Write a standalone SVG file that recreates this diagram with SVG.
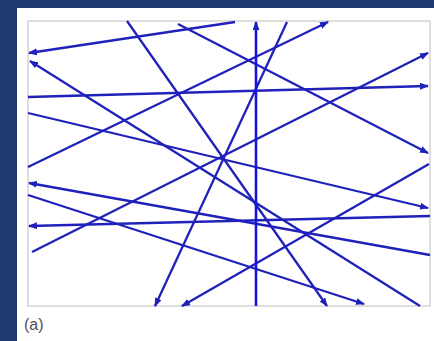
<svg xmlns="http://www.w3.org/2000/svg" width="434" height="341" viewBox="0 0 434 341">
<style>
.ln{stroke:#2020bb;stroke-width:2.3;fill:none;marker-end:url(#ah)}
.lbl{font-family:"Liberation Sans",Arial,sans-serif;font-size:16px;fill:#505050}
</style>
<defs>
<marker id="ah" markerUnits="userSpaceOnUse" markerWidth="9" markerHeight="7" refX="8" refY="3.5" orient="auto">
<path d="M0,0 L9,3.5 L0,7 z" fill="#2020bb"/>
</marker>
</defs>
<rect x="0" y="0" width="434" height="341" fill="#1e3a6e"/>
<rect x="17" y="8" width="417" height="333" fill="#ffffff"/>
<rect id="frame" x="28" y="21" width="402" height="285" fill="none" stroke="#c8c8c8" stroke-width="1.2"/>
<g id="connectors">
<line class="ln" x1="235" y1="22" x2="29" y2="53"/>
<line class="ln" x1="420" y1="306" x2="30" y2="61"/>
<line class="ln" x1="28" y1="97" x2="428" y2="86"/>
<line class="ln" x1="28" y1="113" x2="428" y2="208"/>
<line class="ln" x1="28" y1="167" x2="328" y2="22"/>
<line class="ln" x1="127" y1="21" x2="327" y2="306"/>
<line class="ln" x1="178" y1="24" x2="428" y2="153"/>
<line class="ln" x1="287" y1="22" x2="155" y2="306"/>
<line class="ln" x1="32" y1="252" x2="428" y2="53"/>
<line class="ln" x1="429" y1="164" x2="182" y2="306"/>
<line class="ln" x1="430" y1="216" x2="29" y2="226"/>
<line class="ln" x1="430" y1="255" x2="29" y2="183"/>
<line class="ln" x1="28" y1="195" x2="364" y2="304"/>
<line class="ln" x1="256" y1="306" x2="256" y2="22" style="stroke:#1414dc;stroke-width:2.6"/>
</g>
<text class="lbl" x="24" y="330">(a)</text>
</svg>
